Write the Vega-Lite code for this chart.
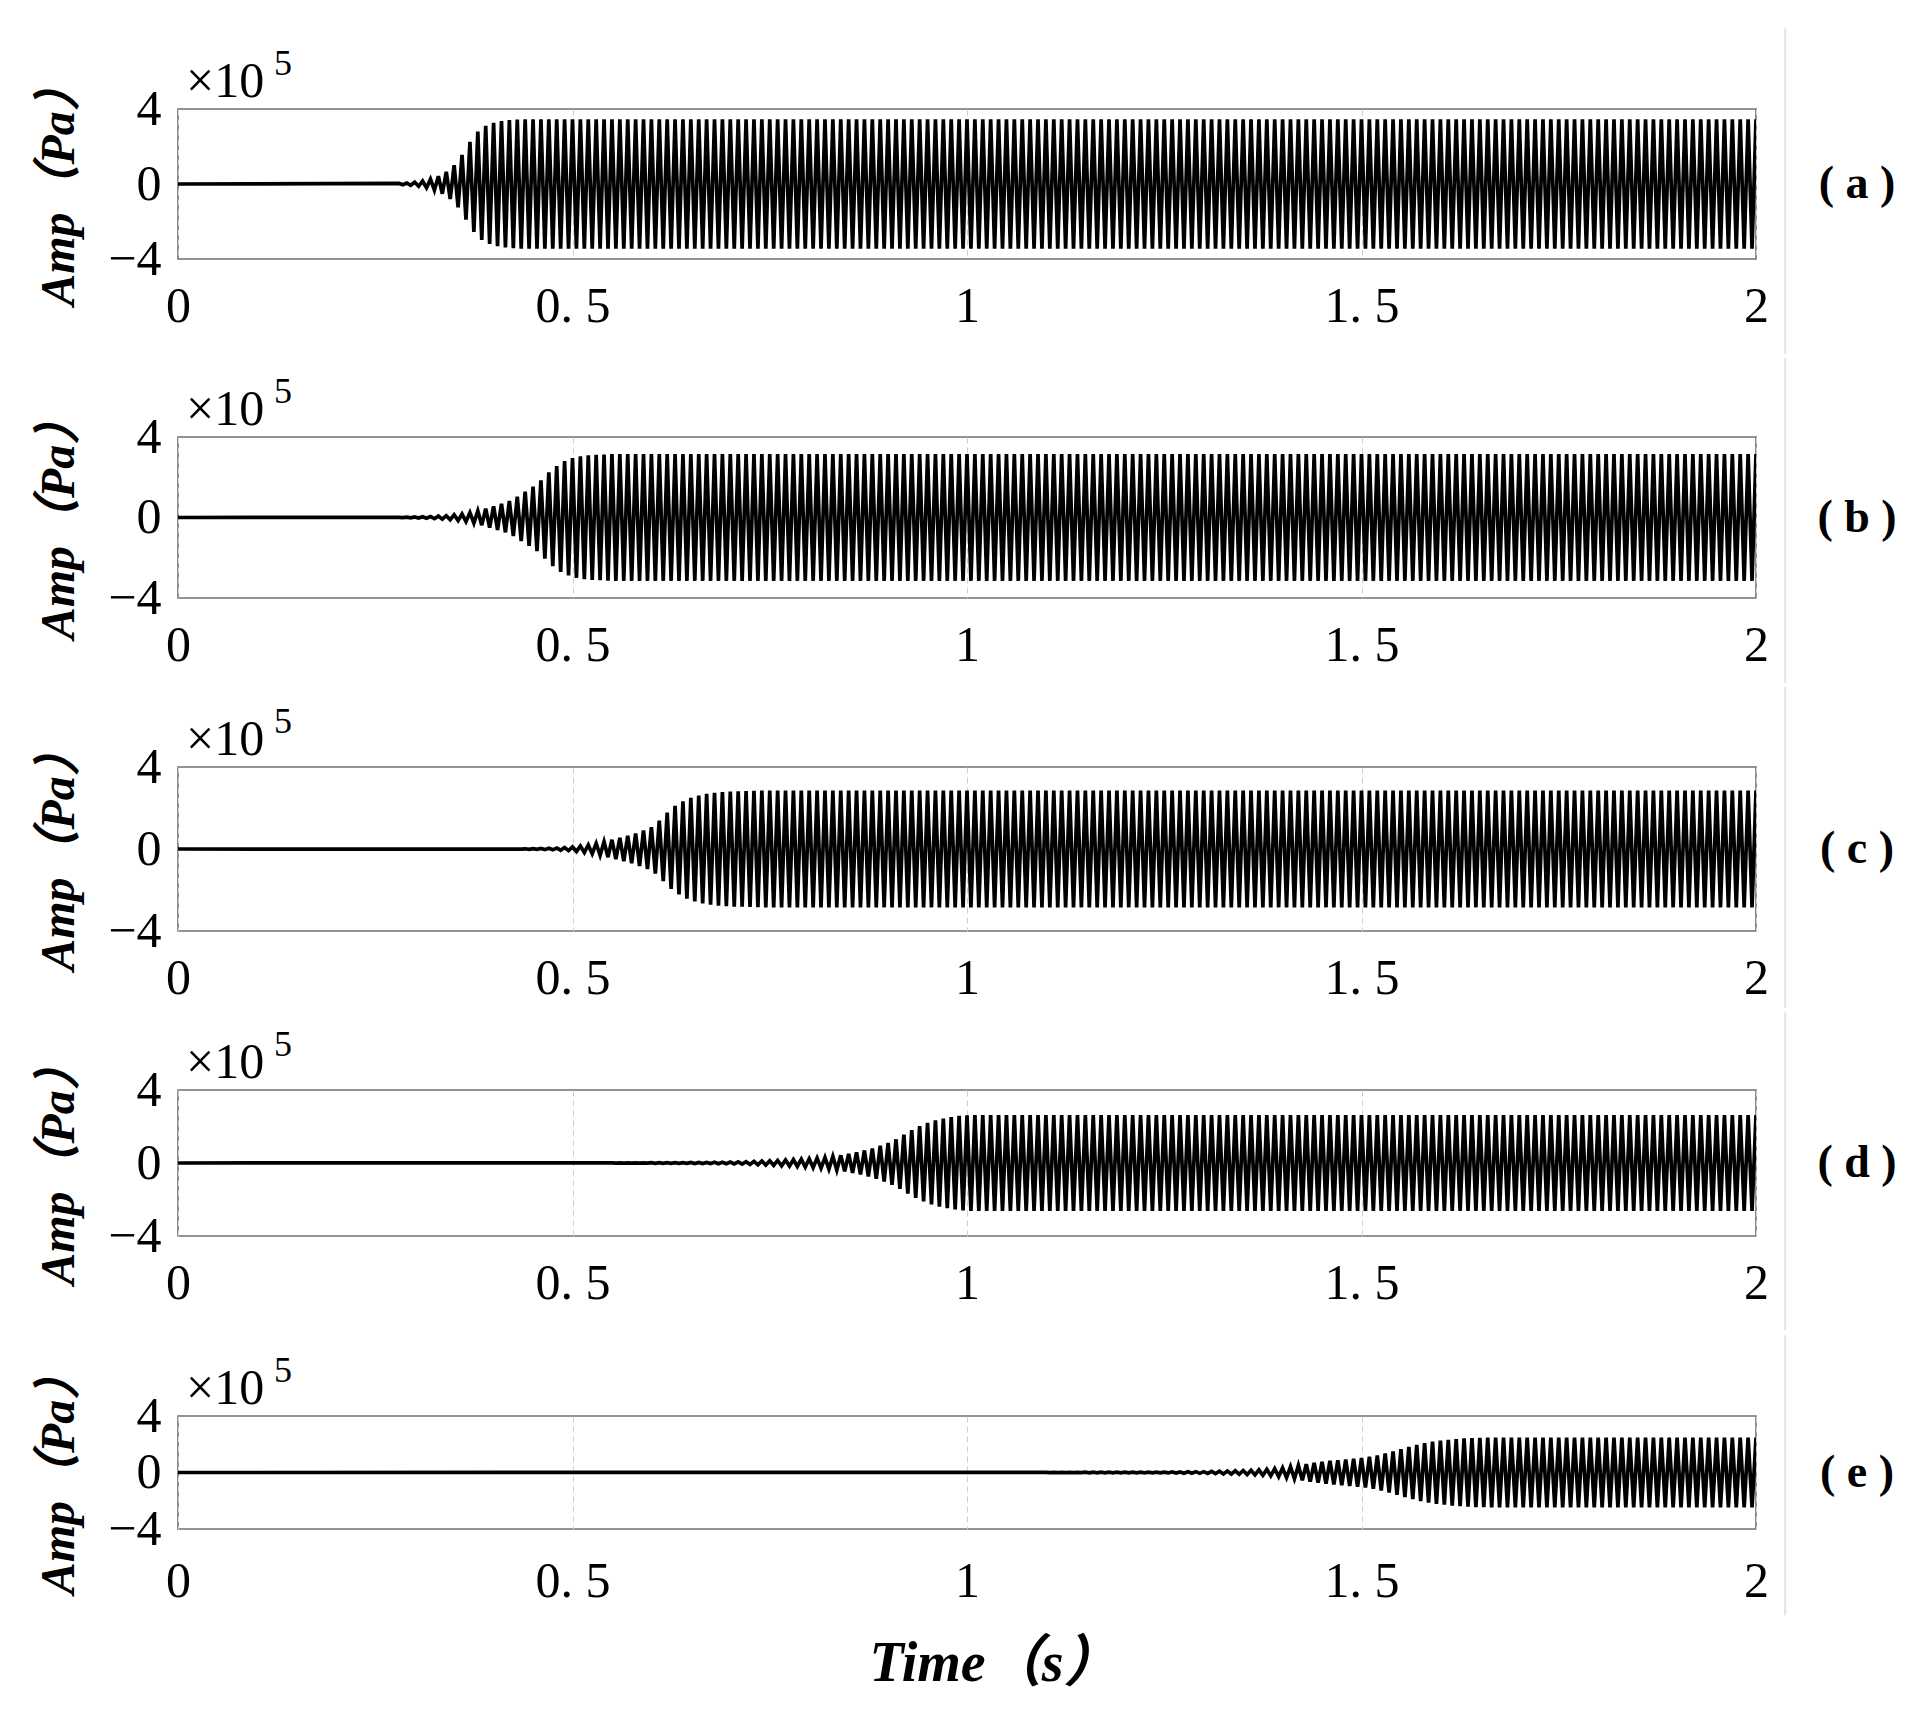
{
"$schema":"https://vega.github.io/schema/vega-lite/v6.json",
"background":"white",
"padding":{"left":35,"top":26,"right":5,"bottom":5},
"data":{"values":[
{"t":0,"a":0,"b":0,"c":0,"d":0,"e":0},
{"t":0.28,"a":0.03,"b":0.01},{"t":0.285,"a":-0.04,"b":-0.01},{"t":0.29,"a":0.05,"b":0.02},{"t":0.295,"a":-0.07,"b":-0.02},
{"t":0.3,"a":0.09,"b":0.03},{"t":0.305,"a":-0.12,"b":-0.03},{"t":0.31,"a":0.16,"b":0.04},{"t":0.315,"a":-0.2,"b":-0.04},
{"t":0.32,"a":0.26,"b":0.05},{"t":0.325,"a":-0.33,"b":-0.06},{"t":0.33,"a":0.42,"b":0.07},{"t":0.335,"a":-0.52,"b":-0.08},
{"t":0.34,"a":0.65,"b":0.09},{"t":0.345,"a":-0.8,"b":-0.11},{"t":0.35,"a":1,"b":0.13},{"t":0.355,"a":-1.25,"b":-0.15},
{"t":0.36,"a":1.55,"b":0.17},{"t":0.365,"a":-1.9,"b":-0.2},{"t":0.37,"a":2.25,"b":0.24},{"t":0.375,"a":-2.55,"b":-0.28},
{"t":0.38,"a":2.8,"b":0.33},{"t":0.385,"a":-2.98,"b":-0.38},{"t":0.39,"a":3.1,"b":0.44},{"t":0.395,"a":-3.2,"b":-0.5},
{"t":0.4,"a":3.27,"b":0.56},{"t":0.405,"a":-3.32,"b":-0.62},{"t":0.41,"a":3.36,"b":0.68},{"t":0.415,"a":-3.39,"b":-0.74},
{"t":0.42,"a":3.41,"b":0.82},{"t":0.425,"a":-3.43,"b":-0.92},{"t":0.43,"a":3.44,"b":1.04},{"t":0.435,"a":-3.45,"b":-1.17,"c":-0.01},
{"t":0.44,"a":3.45,"b":1.29,"c":0.01},{"t":0.445,"a":-3.45,"b":-1.41,"c":-0.02},{"t":0.45,"a":3.45,"b":1.53,"c":0.02},{"t":0.455,"a":-3.45,"b":-1.67,"c":-0.02},
{"t":0.46,"a":3.45,"b":1.85,"c":0.03},{"t":0.465,"a":-3.45,"b":-2.05,"c":-0.03},{"t":0.47,"a":3.45,"b":2.25,"c":0.04},{"t":0.475,"a":-3.45,"b":-2.42,"c":-0.04},
{"t":0.48,"a":3.45,"b":2.56,"c":0.05},{"t":0.485,"a":-3.45,"b":-2.7,"c":-0.06},{"t":0.49,"a":3.45,"b":2.8,"c":0.07},{"t":0.495,"a":-3.45,"b":-2.88,"c":-0.08},
{"t":0.5,"a":3.45,"b":2.95,"c":0.1},{"t":0.505,"a":-3.45,"b":-3,"c":-0.12},{"t":0.51,"a":3.45,"b":3.04,"c":0.14},{"t":0.515,"a":-3.45,"b":-3.07,"c":-0.17},
{"t":0.52,"a":3.45,"b":3.09,"c":0.2},{"t":0.525,"a":-3.45,"b":-3.1,"c":-0.23},{"t":0.53,"a":3.45,"b":3.11,"c":0.27},{"t":0.535,"a":-3.45,"b":-3.12,"c":-0.31},
{"t":0.54,"a":3.45,"b":3.13,"c":0.35},{"t":0.545,"a":-3.45,"b":-3.14,"c":-0.4},
{"t":0.55,"a":3.45,"b":3.15,"c":0.45,"d":0.01},{"t":0.555,"a":-3.45,"b":-3.15,"c":-0.5,"d":-0.01},
{"t":0.56,"a":3.45,"b":3.15,"c":0.55,"d":0.01},{"t":0.565,"a":-3.45,"b":-3.15,"c":-0.6,"d":-0.01},
{"t":0.57,"a":3.45,"b":3.15,"c":0.65,"d":0.01},{"t":0.575,"a":-3.45,"b":-3.15,"c":-0.7,"d":-0.01},
{"t":0.58,"a":3.45,"b":3.15,"c":0.76,"d":0.01},{"t":0.585,"a":-3.45,"b":-3.15,"c":-0.83,"d":-0.01},
{"t":0.59,"a":3.45,"b":3.15,"c":0.9,"d":0.01},{"t":0.595,"a":-3.45,"b":-3.15,"c":-0.98,"d":-0.01},
{"t":0.6,"a":3.45,"b":3.15,"c":1.07,"d":0.02},{"t":0.605,"a":-3.45,"b":-3.15,"c":-1.2,"d":-0.02},
{"t":0.61,"a":3.45,"b":3.15,"c":1.38,"d":0.02},{"t":0.615,"a":-3.45,"b":-3.15,"c":-1.57,"d":-0.02},
{"t":0.62,"a":3.45,"b":3.15,"c":1.78,"d":0.02},{"t":0.625,"a":-3.45,"b":-3.15,"c":-1.95,"d":-0.02},
{"t":0.63,"a":3.45,"b":3.15,"c":2.1,"d":0.02},{"t":0.635,"a":-3.45,"b":-3.15,"c":-2.22,"d":-0.02},
{"t":0.64,"a":3.45,"b":3.15,"c":2.33,"d":0.02},{"t":0.645,"a":-3.45,"b":-3.15,"c":-2.42,"d":-0.02},
{"t":0.65,"a":3.45,"b":3.15,"c":2.5,"d":0.03},{"t":0.655,"a":-3.45,"b":-3.15,"c":-2.56,"d":-0.03},
{"t":0.66,"a":3.45,"b":3.15,"c":2.61,"d":0.03},{"t":0.665,"a":-3.45,"b":-3.15,"c":-2.65,"d":-0.03},
{"t":0.67,"a":3.45,"b":3.15,"c":2.69,"d":0.03},{"t":0.675,"a":-3.45,"b":-3.15,"c":-2.72,"d":-0.03},
{"t":0.68,"a":3.45,"b":3.15,"c":2.74,"d":0.04},{"t":0.685,"a":-3.45,"b":-3.15,"c":-2.76,"d":-0.04},
{"t":0.69,"a":3.45,"b":3.15,"c":2.78,"d":0.04},{"t":0.695,"a":-3.45,"b":-3.15,"c":-2.79,"d":-0.04},
{"t":0.7,"a":3.45,"b":3.15,"c":2.8,"d":0.05},{"t":0.705,"a":-3.45,"b":-3.15,"c":-2.81,"d":-0.05},
{"t":0.71,"a":3.45,"b":3.15,"c":2.82,"d":0.06},{"t":0.715,"a":-3.45,"b":-3.15,"c":-2.82,"d":-0.06},
{"t":0.72,"a":3.45,"b":3.15,"c":2.83,"d":0.07},{"t":0.725,"a":-3.45,"b":-3.15,"c":-2.83,"d":-0.08},
{"t":0.73,"a":3.45,"b":3.15,"c":2.84,"d":0.09},{"t":0.735,"a":-3.45,"b":-3.15,"c":-2.84,"d":-0.1},
{"t":0.74,"a":3.45,"b":3.15,"c":2.85,"d":0.11},{"t":0.745,"a":-3.45,"b":-3.15,"c":-2.85,"d":-0.11},
{"t":0.75,"a":3.45,"b":3.15,"c":2.85,"d":0.12},{"t":0.755,"a":-3.45,"b":-3.15,"c":-2.85,"d":-0.13},
{"t":0.76,"a":3.45,"b":3.15,"c":2.85,"d":0.14},{"t":0.765,"a":-3.45,"b":-3.15,"c":-2.85,"d":-0.15},
{"t":0.77,"a":3.45,"b":3.15,"c":2.85,"d":0.16},{"t":0.775,"a":-3.45,"b":-3.15,"c":-2.85,"d":-0.17},
{"t":0.78,"a":3.45,"b":3.15,"c":2.85,"d":0.18},{"t":0.785,"a":-3.45,"b":-3.15,"c":-2.85,"d":-0.19},
{"t":0.79,"a":3.45,"b":3.15,"c":2.85,"d":0.21},{"t":0.795,"a":-3.45,"b":-3.15,"c":-2.85,"d":-0.22},
{"t":0.8,"a":3.45,"b":3.15,"c":2.85,"d":0.23},{"t":0.805,"a":-3.45,"b":-3.15,"c":-2.85,"d":-0.25},
{"t":0.81,"a":3.45,"b":3.15,"c":2.85,"d":0.27},{"t":0.815,"a":-3.45,"b":-3.15,"c":-2.85,"d":-0.28},
{"t":0.82,"a":3.45,"b":3.15,"c":2.85,"d":0.3},{"t":0.825,"a":-3.45,"b":-3.15,"c":-2.85,"d":-0.33},
{"t":0.83,"a":3.45,"b":3.15,"c":2.85,"d":0.36},{"t":0.835,"a":-3.45,"b":-3.15,"c":-2.85,"d":-0.39},
{"t":0.84,"a":3.45,"b":3.15,"c":2.85,"d":0.42},{"t":0.845,"a":-3.45,"b":-3.15,"c":-2.85,"d":-0.46},
{"t":0.85,"a":3.45,"b":3.15,"c":2.85,"d":0.5},{"t":0.855,"a":-3.45,"b":-3.15,"c":-2.85,"d":-0.54},
{"t":0.86,"a":3.45,"b":3.15,"c":2.85,"d":0.58},{"t":0.865,"a":-3.45,"b":-3.15,"c":-2.85,"d":-0.63},
{"t":0.87,"a":3.45,"b":3.15,"c":2.85,"d":0.69},{"t":0.875,"a":-3.45,"b":-3.15,"c":-2.85,"d":-0.74},
{"t":0.88,"a":3.45,"b":3.15,"c":2.85,"d":0.8},{"t":0.885,"a":-3.45,"b":-3.15,"c":-2.85,"d":-0.87},
{"t":0.89,"a":3.45,"b":3.15,"c":2.85,"d":0.95},{"t":0.895,"a":-3.45,"b":-3.15,"c":-2.85,"d":-1.02},
{"t":0.9,"a":3.45,"b":3.15,"c":2.85,"d":1.1},{"t":0.905,"a":-3.45,"b":-3.15,"c":-2.85,"d":-1.2},
{"t":0.91,"a":3.45,"b":3.15,"c":2.85,"d":1.3},{"t":0.915,"a":-3.45,"b":-3.15,"c":-2.85,"d":-1.42},
{"t":0.92,"a":3.45,"b":3.15,"c":2.85,"d":1.55},{"t":0.925,"a":-3.45,"b":-3.15,"c":-2.85,"d":-1.68},
{"t":0.93,"a":3.45,"b":3.15,"c":2.85,"d":1.8},{"t":0.935,"a":-3.45,"b":-3.15,"c":-2.85,"d":-1.91},
{"t":0.94,"a":3.45,"b":3.15,"c":2.85,"d":2.02},{"t":0.945,"a":-3.45,"b":-3.15,"c":-2.85,"d":-2.11},
{"t":0.95,"a":3.45,"b":3.15,"c":2.85,"d":2.2},{"t":0.955,"a":-3.45,"b":-3.15,"c":-2.85,"d":-2.27},
{"t":0.96,"a":3.45,"b":3.15,"c":2.85,"d":2.34},{"t":0.965,"a":-3.45,"b":-3.15,"c":-2.85,"d":-2.39},
{"t":0.97,"a":3.45,"b":3.15,"c":2.85,"d":2.44},{"t":0.975,"a":-3.45,"b":-3.15,"c":-2.85,"d":-2.48},
{"t":0.98,"a":3.45,"b":3.15,"c":2.85,"d":2.52},{"t":0.985,"a":-3.45,"b":-3.15,"c":-2.85,"d":-2.55},
{"t":0.99,"a":3.45,"b":3.15,"c":2.85,"d":2.58},{"t":0.995,"a":-3.45,"b":-3.15,"c":-2.85,"d":-2.6},
{"t":1,"a":3.45,"b":3.15,"c":2.85,"d":2.61},{"t":1.005,"a":-3.45,"b":-3.15,"c":-2.85,"d":-2.62},
{"t":1.01,"a":3.45,"b":3.15,"c":2.85,"d":2.62},{"t":1.015,"a":-3.45,"b":-3.15,"c":-2.85,"d":-2.63},
{"t":1.02,"a":3.45,"b":3.15,"c":2.85,"d":2.63},{"t":1.025,"a":-3.45,"b":-3.15,"c":-2.85,"d":-2.63},
{"t":1.03,"a":3.45,"b":3.15,"c":2.85,"d":2.63},{"t":1.035,"a":-3.45,"b":-3.15,"c":-2.85,"d":-2.63},
{"t":1.04,"a":3.45,"b":3.15,"c":2.85,"d":2.63},{"t":1.045,"a":-3.45,"b":-3.15,"c":-2.85,"d":-2.63},
{"t":1.05,"a":3.45,"b":3.15,"c":2.85,"d":2.63},{"t":1.055,"a":-3.45,"b":-3.15,"c":-2.85,"d":-2.63},
{"t":1.06,"a":3.45,"b":3.15,"c":2.85,"d":2.63},{"t":1.065,"a":-3.45,"b":-3.15,"c":-2.85,"d":-2.63},
{"t":1.07,"a":3.45,"b":3.15,"c":2.85,"d":2.63},{"t":1.075,"a":-3.45,"b":-3.15,"c":-2.85,"d":-2.63},
{"t":1.08,"a":3.45,"b":3.15,"c":2.85,"d":2.63},{"t":1.085,"a":-3.45,"b":-3.15,"c":-2.85,"d":-2.63},
{"t":1.09,"a":3.45,"b":3.15,"c":2.85,"d":2.63},{"t":1.095,"a":-3.45,"b":-3.15,"c":-2.85,"d":-2.63},
{"t":1.1,"a":3.45,"b":3.15,"c":2.85,"d":2.63,"e":0.01},{"t":1.105,"a":-3.45,"b":-3.15,"c":-2.85,"d":-2.63,"e":-0.01},
{"t":1.11,"a":3.45,"b":3.15,"c":2.85,"d":2.63,"e":0.01},{"t":1.115,"a":-3.45,"b":-3.15,"c":-2.85,"d":-2.63,"e":-0.01},
{"t":1.12,"a":3.45,"b":3.15,"c":2.85,"d":2.63,"e":0.01},{"t":1.125,"a":-3.45,"b":-3.15,"c":-2.85,"d":-2.63,"e":-0.01},
{"t":1.13,"a":3.45,"b":3.15,"c":2.85,"d":2.63,"e":0.01},{"t":1.135,"a":-3.45,"b":-3.15,"c":-2.85,"d":-2.63,"e":-0.01},
{"t":1.14,"a":3.45,"b":3.15,"c":2.85,"d":2.63,"e":0.01},{"t":1.145,"a":-3.45,"b":-3.15,"c":-2.85,"d":-2.63,"e":-0.01},
{"t":1.15,"a":3.45,"b":3.15,"c":2.85,"d":2.63,"e":0.02},{"t":1.155,"a":-3.45,"b":-3.15,"c":-2.85,"d":-2.63,"e":-0.02},
{"t":1.16,"a":3.45,"b":3.15,"c":2.85,"d":2.63,"e":0.02},{"t":1.165,"a":-3.45,"b":-3.15,"c":-2.85,"d":-2.63,"e":-0.02},
{"t":1.17,"a":3.45,"b":3.15,"c":2.85,"d":2.63,"e":0.02},{"t":1.175,"a":-3.45,"b":-3.15,"c":-2.85,"d":-2.63,"e":-0.02},
{"t":1.18,"a":3.45,"b":3.15,"c":2.85,"d":2.63,"e":0.02},{"t":1.185,"a":-3.45,"b":-3.15,"c":-2.85,"d":-2.63,"e":-0.02},
{"t":1.19,"a":3.45,"b":3.15,"c":2.85,"d":2.63,"e":0.02},{"t":1.195,"a":-3.45,"b":-3.15,"c":-2.85,"d":-2.63,"e":-0.02},
{"t":1.2,"a":3.45,"b":3.15,"c":2.85,"d":2.63,"e":0.02},{"t":1.205,"a":-3.45,"b":-3.15,"c":-2.85,"d":-2.63,"e":-0.02},
{"t":1.21,"a":3.45,"b":3.15,"c":2.85,"d":2.63,"e":0.02},{"t":1.215,"a":-3.45,"b":-3.15,"c":-2.85,"d":-2.63,"e":-0.02},
{"t":1.22,"a":3.45,"b":3.15,"c":2.85,"d":2.63,"e":0.02},{"t":1.225,"a":-3.45,"b":-3.15,"c":-2.85,"d":-2.63,"e":-0.02},
{"t":1.23,"a":3.45,"b":3.15,"c":2.85,"d":2.63,"e":0.02},{"t":1.235,"a":-3.45,"b":-3.15,"c":-2.85,"d":-2.63,"e":-0.02},
{"t":1.24,"a":3.45,"b":3.15,"c":2.85,"d":2.63,"e":0.02},{"t":1.245,"a":-3.45,"b":-3.15,"c":-2.85,"d":-2.63,"e":-0.03},
{"t":1.25,"a":3.45,"b":3.15,"c":2.85,"d":2.63,"e":0.03},{"t":1.255,"a":-3.45,"b":-3.15,"c":-2.85,"d":-2.63,"e":-0.03},
{"t":1.26,"a":3.45,"b":3.15,"c":2.85,"d":2.63,"e":0.04},{"t":1.265,"a":-3.45,"b":-3.15,"c":-2.85,"d":-2.63,"e":-0.04},
{"t":1.27,"a":3.45,"b":3.15,"c":2.85,"d":2.63,"e":0.04},{"t":1.275,"a":-3.45,"b":-3.15,"c":-2.85,"d":-2.63,"e":-0.05},
{"t":1.28,"a":3.45,"b":3.15,"c":2.85,"d":2.63,"e":0.05},{"t":1.285,"a":-3.45,"b":-3.15,"c":-2.85,"d":-2.63,"e":-0.05},
{"t":1.29,"a":3.45,"b":3.15,"c":2.85,"d":2.63,"e":0.06},{"t":1.295,"a":-3.45,"b":-3.15,"c":-2.85,"d":-2.63,"e":-0.06},
{"t":1.3,"a":3.45,"b":3.15,"c":2.85,"d":2.63,"e":0.06},{"t":1.305,"a":-3.45,"b":-3.15,"c":-2.85,"d":-2.63,"e":-0.07},
{"t":1.31,"a":3.45,"b":3.15,"c":2.85,"d":2.63,"e":0.08},{"t":1.315,"a":-3.45,"b":-3.15,"c":-2.85,"d":-2.63,"e":-0.08},
{"t":1.32,"a":3.45,"b":3.15,"c":2.85,"d":2.63,"e":0.09},{"t":1.325,"a":-3.45,"b":-3.15,"c":-2.85,"d":-2.63,"e":-0.1},
{"t":1.33,"a":3.45,"b":3.15,"c":2.85,"d":2.63,"e":0.1},{"t":1.335,"a":-3.45,"b":-3.15,"c":-2.85,"d":-2.63,"e":-0.11},
{"t":1.34,"a":3.45,"b":3.15,"c":2.85,"d":2.63,"e":0.12},{"t":1.345,"a":-3.45,"b":-3.15,"c":-2.85,"d":-2.63,"e":-0.13},
{"t":1.35,"a":3.45,"b":3.15,"c":2.85,"d":2.63,"e":0.14},{"t":1.355,"a":-3.45,"b":-3.15,"c":-2.85,"d":-2.63,"e":-0.15},
{"t":1.36,"a":3.45,"b":3.15,"c":2.85,"d":2.63,"e":0.16},{"t":1.365,"a":-3.45,"b":-3.15,"c":-2.85,"d":-2.63,"e":-0.17},
{"t":1.37,"a":3.45,"b":3.15,"c":2.85,"d":2.63,"e":0.19},{"t":1.375,"a":-3.45,"b":-3.15,"c":-2.85,"d":-2.63,"e":-0.2},
{"t":1.38,"a":3.45,"b":3.15,"c":2.85,"d":2.63,"e":0.22},{"t":1.385,"a":-3.45,"b":-3.15,"c":-2.85,"d":-2.63,"e":-0.24},
{"t":1.39,"a":3.45,"b":3.15,"c":2.85,"d":2.63,"e":0.27},{"t":1.395,"a":-3.45,"b":-3.15,"c":-2.85,"d":-2.63,"e":-0.29},
{"t":1.4,"a":3.45,"b":3.15,"c":2.85,"d":2.63,"e":0.32},{"t":1.405,"a":-3.45,"b":-3.15,"c":-2.85,"d":-2.63,"e":-0.36},
{"t":1.41,"a":3.45,"b":3.15,"c":2.85,"d":2.63,"e":0.41},{"t":1.415,"a":-3.45,"b":-3.15,"c":-2.85,"d":-2.63,"e":-0.45},
{"t":1.42,"a":3.45,"b":3.15,"c":2.85,"d":2.63,"e":0.5},{"t":1.425,"a":-3.45,"b":-3.15,"c":-2.85,"d":-2.63,"e":-0.55},
{"t":1.43,"a":3.45,"b":3.15,"c":2.85,"d":2.63,"e":0.59},{"t":1.435,"a":-3.45,"b":-3.15,"c":-2.85,"d":-2.63,"e":-0.64},
{"t":1.44,"a":3.45,"b":3.15,"c":2.85,"d":2.63,"e":0.68},{"t":1.445,"a":-3.45,"b":-3.15,"c":-2.85,"d":-2.63,"e":-0.72},
{"t":1.45,"a":3.45,"b":3.15,"c":2.85,"d":2.63,"e":0.75},{"t":1.455,"a":-3.45,"b":-3.15,"c":-2.85,"d":-2.63,"e":-0.79},
{"t":1.46,"a":3.45,"b":3.15,"c":2.85,"d":2.63,"e":0.82},{"t":1.465,"a":-3.45,"b":-3.15,"c":-2.85,"d":-2.63,"e":-0.85},
{"t":1.47,"a":3.45,"b":3.15,"c":2.85,"d":2.63,"e":0.87},{"t":1.475,"a":-3.45,"b":-3.15,"c":-2.85,"d":-2.63,"e":-0.9},
{"t":1.48,"a":3.45,"b":3.15,"c":2.85,"d":2.63,"e":0.92},{"t":1.485,"a":-3.45,"b":-3.15,"c":-2.85,"d":-2.63,"e":-0.95},
{"t":1.49,"a":3.45,"b":3.15,"c":2.85,"d":2.63,"e":0.97},{"t":1.495,"a":-3.45,"b":-3.15,"c":-2.85,"d":-2.63,"e":-1},
{"t":1.5,"a":3.45,"b":3.15,"c":2.85,"d":2.63,"e":1.02},{"t":1.505,"a":-3.45,"b":-3.15,"c":-2.85,"d":-2.63,"e":-1.06},
{"t":1.51,"a":3.45,"b":3.15,"c":2.85,"d":2.63,"e":1.11},{"t":1.515,"a":-3.45,"b":-3.15,"c":-2.85,"d":-2.63,"e":-1.15},
{"t":1.52,"a":3.45,"b":3.15,"c":2.85,"d":2.63,"e":1.2},{"t":1.525,"a":-3.45,"b":-3.15,"c":-2.85,"d":-2.63,"e":-1.27},
{"t":1.53,"a":3.45,"b":3.15,"c":2.85,"d":2.63,"e":1.35},{"t":1.535,"a":-3.45,"b":-3.15,"c":-2.85,"d":-2.63,"e":-1.42},
{"t":1.54,"a":3.45,"b":3.15,"c":2.85,"d":2.63,"e":1.5},{"t":1.545,"a":-3.45,"b":-3.15,"c":-2.85,"d":-2.63,"e":-1.58},
{"t":1.55,"a":3.45,"b":3.15,"c":2.85,"d":2.63,"e":1.66},{"t":1.555,"a":-3.45,"b":-3.15,"c":-2.85,"d":-2.63,"e":-1.74},
{"t":1.56,"a":3.45,"b":3.15,"c":2.85,"d":2.63,"e":1.82},{"t":1.565,"a":-3.45,"b":-3.15,"c":-2.85,"d":-2.63,"e":-1.89},
{"t":1.57,"a":3.45,"b":3.15,"c":2.85,"d":2.63,"e":1.95},{"t":1.575,"a":-3.45,"b":-3.15,"c":-2.85,"d":-2.63,"e":-2.02},
{"t":1.58,"a":3.45,"b":3.15,"c":2.85,"d":2.63,"e":2.08},{"t":1.585,"a":-3.45,"b":-3.15,"c":-2.85,"d":-2.63,"e":-2.13},
{"t":1.59,"a":3.45,"b":3.15,"c":2.85,"d":2.63,"e":2.18},{"t":1.595,"a":-3.45,"b":-3.15,"c":-2.85,"d":-2.63,"e":-2.22},
{"t":1.6,"a":3.45,"b":3.15,"c":2.85,"d":2.63,"e":2.25},{"t":1.605,"a":-3.45,"b":-3.15,"c":-2.85,"d":-2.63,"e":-2.28},
{"t":1.61,"a":3.45,"b":3.15,"c":2.85,"d":2.63,"e":2.31},{"t":1.615,"a":-3.45,"b":-3.15,"c":-2.85,"d":-2.63,"e":-2.34},
{"t":1.62,"a":3.45,"b":3.15,"c":2.85,"d":2.63,"e":2.37},{"t":1.625,"a":-3.45,"b":-3.15,"c":-2.85,"d":-2.63,"e":-2.39},
{"t":1.63,"a":3.45,"b":3.15,"c":2.85,"d":2.63,"e":2.41},{"t":1.635,"a":-3.45,"b":-3.15,"c":-2.85,"d":-2.63,"e":-2.42},
{"t":1.64,"a":3.45,"b":3.15,"c":2.85,"d":2.63,"e":2.44},{"t":1.645,"a":-3.45,"b":-3.15,"c":-2.85,"d":-2.63,"e":-2.45},
{"t":1.65,"a":3.45,"b":3.15,"c":2.85,"d":2.63,"e":2.46},{"t":1.655,"a":-3.45,"b":-3.15,"c":-2.85,"d":-2.63,"e":-2.46},
{"t":1.66,"a":3.45,"b":3.15,"c":2.85,"d":2.63,"e":2.47},{"t":1.665,"a":-3.45,"b":-3.15,"c":-2.85,"d":-2.63,"e":-2.47},
{"t":1.67,"a":3.45,"b":3.15,"c":2.85,"d":2.63,"e":2.47},{"t":1.675,"a":-3.45,"b":-3.15,"c":-2.85,"d":-2.63,"e":-2.47},
{"t":1.68,"a":3.45,"b":3.15,"c":2.85,"d":2.63,"e":2.47},{"t":1.685,"a":-3.45,"b":-3.15,"c":-2.85,"d":-2.63,"e":-2.47},
{"t":1.69,"a":3.45,"b":3.15,"c":2.85,"d":2.63,"e":2.47},{"t":1.695,"a":-3.45,"b":-3.15,"c":-2.85,"d":-2.63,"e":-2.47},
{"t":1.7,"a":3.45,"b":3.15,"c":2.85,"d":2.63,"e":2.47},{"t":1.705,"a":-3.45,"b":-3.15,"c":-2.85,"d":-2.63,"e":-2.47},
{"t":1.71,"a":3.45,"b":3.15,"c":2.85,"d":2.63,"e":2.47},{"t":1.715,"a":-3.45,"b":-3.15,"c":-2.85,"d":-2.63,"e":-2.47},
{"t":1.72,"a":3.45,"b":3.15,"c":2.85,"d":2.63,"e":2.47},{"t":1.725,"a":-3.45,"b":-3.15,"c":-2.85,"d":-2.63,"e":-2.47},
{"t":1.73,"a":3.45,"b":3.15,"c":2.85,"d":2.63,"e":2.47},{"t":1.735,"a":-3.45,"b":-3.15,"c":-2.85,"d":-2.63,"e":-2.47},
{"t":1.74,"a":3.45,"b":3.15,"c":2.85,"d":2.63,"e":2.47},{"t":1.745,"a":-3.45,"b":-3.15,"c":-2.85,"d":-2.63,"e":-2.47},
{"t":1.75,"a":3.45,"b":3.15,"c":2.85,"d":2.63,"e":2.47},{"t":1.755,"a":-3.45,"b":-3.15,"c":-2.85,"d":-2.63,"e":-2.47},
{"t":1.76,"a":3.45,"b":3.15,"c":2.85,"d":2.63,"e":2.47},{"t":1.765,"a":-3.45,"b":-3.15,"c":-2.85,"d":-2.63,"e":-2.47},
{"t":1.77,"a":3.45,"b":3.15,"c":2.85,"d":2.63,"e":2.47},{"t":1.775,"a":-3.45,"b":-3.15,"c":-2.85,"d":-2.63,"e":-2.47},
{"t":1.78,"a":3.45,"b":3.15,"c":2.85,"d":2.63,"e":2.47},{"t":1.785,"a":-3.45,"b":-3.15,"c":-2.85,"d":-2.63,"e":-2.47},
{"t":1.79,"a":3.45,"b":3.15,"c":2.85,"d":2.63,"e":2.47},{"t":1.795,"a":-3.45,"b":-3.15,"c":-2.85,"d":-2.63,"e":-2.47},
{"t":1.8,"a":3.45,"b":3.15,"c":2.85,"d":2.63,"e":2.47},{"t":1.805,"a":-3.45,"b":-3.15,"c":-2.85,"d":-2.63,"e":-2.47},
{"t":1.81,"a":3.45,"b":3.15,"c":2.85,"d":2.63,"e":2.47},{"t":1.815,"a":-3.45,"b":-3.15,"c":-2.85,"d":-2.63,"e":-2.47},
{"t":1.82,"a":3.45,"b":3.15,"c":2.85,"d":2.63,"e":2.47},{"t":1.825,"a":-3.45,"b":-3.15,"c":-2.85,"d":-2.63,"e":-2.47},
{"t":1.83,"a":3.45,"b":3.15,"c":2.85,"d":2.63,"e":2.47},{"t":1.835,"a":-3.45,"b":-3.15,"c":-2.85,"d":-2.63,"e":-2.47},
{"t":1.84,"a":3.45,"b":3.15,"c":2.85,"d":2.63,"e":2.47},{"t":1.845,"a":-3.45,"b":-3.15,"c":-2.85,"d":-2.63,"e":-2.47},
{"t":1.85,"a":3.45,"b":3.15,"c":2.85,"d":2.63,"e":2.47},{"t":1.855,"a":-3.45,"b":-3.15,"c":-2.85,"d":-2.63,"e":-2.47},
{"t":1.86,"a":3.45,"b":3.15,"c":2.85,"d":2.63,"e":2.47},{"t":1.865,"a":-3.45,"b":-3.15,"c":-2.85,"d":-2.63,"e":-2.47},
{"t":1.87,"a":3.45,"b":3.15,"c":2.85,"d":2.63,"e":2.47},{"t":1.875,"a":-3.45,"b":-3.15,"c":-2.85,"d":-2.63,"e":-2.47},
{"t":1.88,"a":3.45,"b":3.15,"c":2.85,"d":2.63,"e":2.47},{"t":1.885,"a":-3.45,"b":-3.15,"c":-2.85,"d":-2.63,"e":-2.47},
{"t":1.89,"a":3.45,"b":3.15,"c":2.85,"d":2.63,"e":2.47},{"t":1.895,"a":-3.45,"b":-3.15,"c":-2.85,"d":-2.63,"e":-2.47},
{"t":1.9,"a":3.45,"b":3.15,"c":2.85,"d":2.63,"e":2.47},{"t":1.905,"a":-3.45,"b":-3.15,"c":-2.85,"d":-2.63,"e":-2.47},
{"t":1.91,"a":3.45,"b":3.15,"c":2.85,"d":2.63,"e":2.47},{"t":1.915,"a":-3.45,"b":-3.15,"c":-2.85,"d":-2.63,"e":-2.47},
{"t":1.92,"a":3.45,"b":3.15,"c":2.85,"d":2.63,"e":2.47},{"t":1.925,"a":-3.45,"b":-3.15,"c":-2.85,"d":-2.63,"e":-2.47},
{"t":1.93,"a":3.45,"b":3.15,"c":2.85,"d":2.63,"e":2.47},{"t":1.935,"a":-3.45,"b":-3.15,"c":-2.85,"d":-2.63,"e":-2.47},
{"t":1.94,"a":3.45,"b":3.15,"c":2.85,"d":2.63,"e":2.47},{"t":1.945,"a":-3.45,"b":-3.15,"c":-2.85,"d":-2.63,"e":-2.47},
{"t":1.95,"a":3.45,"b":3.15,"c":2.85,"d":2.63,"e":2.47},{"t":1.955,"a":-3.45,"b":-3.15,"c":-2.85,"d":-2.63,"e":-2.47},
{"t":1.96,"a":3.45,"b":3.15,"c":2.85,"d":2.63,"e":2.47},{"t":1.965,"a":-3.45,"b":-3.15,"c":-2.85,"d":-2.63,"e":-2.47},
{"t":1.97,"a":3.45,"b":3.15,"c":2.85,"d":2.63,"e":2.47},{"t":1.975,"a":-3.45,"b":-3.15,"c":-2.85,"d":-2.63,"e":-2.47},
{"t":1.98,"a":3.45,"b":3.15,"c":2.85,"d":2.63,"e":2.47},{"t":1.985,"a":-3.45,"b":-3.15,"c":-2.85,"d":-2.63,"e":-2.47},
{"t":1.99,"a":3.45,"b":3.15,"c":2.85,"d":2.63,"e":2.47},{"t":1.995,"a":-3.45,"b":-3.15,"c":-2.85,"d":-2.63,"e":-2.47},
{"t":2,"a":3.45,"b":3.15,"c":2.85,"d":2.63,"e":2.47}
]},
"transform":[{"fold":["a","b","c","d","e"],"as":["p","v"]}],
"spacing":0,
"vconcat":[
{"width":1578,"height":150,
 "encoding":{"x":{"field":"t","type":"quantitative","scale":{"domain":[0,2],"nice":false,"zero":false},"axis":{"values":[0,0.5,1,1.5,2],"labelExpr":"replace(toString(datum.value), '.', '. ')","title":null,"labelPadding":22}},
   "y":{"field":"v","type":"quantitative","scale":{"domain":[-4,4],"nice":false},"axis":{"values":[-4,0,4],"title":"Amp（Pa）"}}},
 "layer":[
 {"transform":[{"filter":"datum.p == 'a' && isValid(datum.v)"}],"mark":{"type":"line","stroke":"#000","strokeWidth":3.7,"clip":true}},
 {"data":{"values":[{"t":2.037,"v":8.29,"v2":-9.04}]},"mark":{"type":"rule","stroke":"#e2e2e2","strokeWidth":2},"encoding":{"y2":{"field":"v2"}}},
 {"data":{"values":[{"t":2.128,"v":0,"lab":"( a )"}]},"mark":{"type":"text","font":"Liberation Serif","fontSize":46,"fontWeight":"bold","align":"center","baseline":"middle","color":"#000"},"encoding":{"text":{"field":"lab"}}},
 {"data":{"values":[{"t":0,"v":4,"lab":"×10"}]},"mark":{"type":"text","font":"Liberation Serif","fontSize":50,"align":"left","baseline":"alphabetic","dx":8,"dy":-12,"color":"#000"},"encoding":{"text":{"field":"lab"}}},
 {"data":{"values":[{"t":0,"v":4,"lab":"5"}]},"mark":{"type":"text","font":"Liberation Serif","fontSize":36,"align":"left","baseline":"alphabetic","dx":96,"dy":-34,"color":"#000"},"encoding":{"text":{"field":"lab"}}}
]},
{"width":1578,"height":161,
 "encoding":{"x":{"field":"t","type":"quantitative","scale":{"domain":[0,2],"nice":false,"zero":false},"axis":{"values":[0,0.5,1,1.5,2],"labelExpr":"replace(toString(datum.value), '.', '. ')","title":null,"labelPadding":22}},
   "y":{"field":"v","type":"quantitative","scale":{"domain":[-4,4],"nice":false},"axis":{"values":[-4,0,4],"title":"Amp（Pa）"}}},
 "layer":[
 {"transform":[{"filter":"datum.p == 'b' && isValid(datum.v)"}],"mark":{"type":"line","stroke":"#000","strokeWidth":3.7,"clip":true}},
 {"data":{"values":[{"t":2.037,"v":7.93,"v2":-8.22}]},"mark":{"type":"rule","stroke":"#e2e2e2","strokeWidth":2},"encoding":{"y2":{"field":"v2"}}},
 {"data":{"values":[{"t":2.128,"v":0,"lab":"( b )"}]},"mark":{"type":"text","font":"Liberation Serif","fontSize":46,"fontWeight":"bold","align":"center","baseline":"middle","color":"#000"},"encoding":{"text":{"field":"lab"}}},
 {"data":{"values":[{"t":0,"v":4,"lab":"×10"}]},"mark":{"type":"text","font":"Liberation Serif","fontSize":50,"align":"left","baseline":"alphabetic","dx":8,"dy":-12,"color":"#000"},"encoding":{"text":{"field":"lab"}}},
 {"data":{"values":[{"t":0,"v":4,"lab":"5"}]},"mark":{"type":"text","font":"Liberation Serif","fontSize":36,"align":"left","baseline":"alphabetic","dx":96,"dy":-34,"color":"#000"},"encoding":{"text":{"field":"lab"}}}
]},
{"width":1578,"height":164,
 "encoding":{"x":{"field":"t","type":"quantitative","scale":{"domain":[0,2],"nice":false,"zero":false},"axis":{"values":[0,0.5,1,1.5,2],"labelExpr":"replace(toString(datum.value), '.', '. ')","title":null,"labelPadding":22}},
   "y":{"field":"v","type":"quantitative","scale":{"domain":[-4,4],"nice":false},"axis":{"values":[-4,0,4],"title":"Amp（Pa）"}}},
 "layer":[
 {"transform":[{"filter":"datum.p == 'c' && isValid(datum.v)"}],"mark":{"type":"line","stroke":"#000","strokeWidth":3.7,"clip":true}},
 {"data":{"values":[{"t":2.037,"v":7.9,"v2":-7.76}]},"mark":{"type":"rule","stroke":"#e2e2e2","strokeWidth":2},"encoding":{"y2":{"field":"v2"}}},
 {"data":{"values":[{"t":2.128,"v":0,"lab":"( c )"}]},"mark":{"type":"text","font":"Liberation Serif","fontSize":46,"fontWeight":"bold","align":"center","baseline":"middle","color":"#000"},"encoding":{"text":{"field":"lab"}}},
 {"data":{"values":[{"t":0,"v":4,"lab":"×10"}]},"mark":{"type":"text","font":"Liberation Serif","fontSize":50,"align":"left","baseline":"alphabetic","dx":8,"dy":-12,"color":"#000"},"encoding":{"text":{"field":"lab"}}},
 {"data":{"values":[{"t":0,"v":4,"lab":"5"}]},"mark":{"type":"text","font":"Liberation Serif","fontSize":36,"align":"left","baseline":"alphabetic","dx":96,"dy":-34,"color":"#000"},"encoding":{"text":{"field":"lab"}}}
]},
{"width":1578,"height":146,
 "encoding":{"x":{"field":"t","type":"quantitative","scale":{"domain":[0,2],"nice":false,"zero":false},"axis":{"values":[0,0.5,1,1.5,2],"labelExpr":"replace(toString(datum.value), '.', '. ')","title":null,"labelPadding":22}},
   "y":{"field":"v","type":"quantitative","scale":{"domain":[-4,4],"nice":false},"axis":{"values":[-4,0,4],"title":"Amp（Pa）"}}},
 "layer":[
 {"transform":[{"filter":"datum.p == 'd' && isValid(datum.v)"}],"mark":{"type":"line","stroke":"#000","strokeWidth":3.7,"clip":true}},
 {"data":{"values":[{"t":2.037,"v":8.25,"v2":-9.17}]},"mark":{"type":"rule","stroke":"#e2e2e2","strokeWidth":2},"encoding":{"y2":{"field":"v2"}}},
 {"data":{"values":[{"t":2.128,"v":0,"lab":"( d )"}]},"mark":{"type":"text","font":"Liberation Serif","fontSize":46,"fontWeight":"bold","align":"center","baseline":"middle","color":"#000"},"encoding":{"text":{"field":"lab"}}},
 {"data":{"values":[{"t":0,"v":4,"lab":"×10"}]},"mark":{"type":"text","font":"Liberation Serif","fontSize":50,"align":"left","baseline":"alphabetic","dx":8,"dy":-12,"color":"#000"},"encoding":{"text":{"field":"lab"}}},
 {"data":{"values":[{"t":0,"v":4,"lab":"5"}]},"mark":{"type":"text","font":"Liberation Serif","fontSize":36,"align":"left","baseline":"alphabetic","dx":96,"dy":-34,"color":"#000"},"encoding":{"text":{"field":"lab"}}}
]},
{"width":1578,"height":113,
 "encoding":{"x":{"field":"t","type":"quantitative","scale":{"domain":[0,2],"nice":false,"zero":false},"axis":{"values":[0,0.5,1,1.5,2],"labelExpr":"replace(toString(datum.value), '.', '. ')","title":"Time（s）","titleFontSize":56,"titlePadding":30,"titleX":816,"labelPadding":27}},
   "y":{"field":"v","type":"quantitative","scale":{"domain":[-4,4],"nice":false},"axis":{"values":[-4,0,4],"title":"Amp（Pa）"}}},
 "layer":[
 {"transform":[{"filter":"datum.p == 'e' && isValid(datum.v)"}],"mark":{"type":"line","stroke":"#000","strokeWidth":3.7,"clip":true}},
 {"data":{"values":[{"t":2.037,"v":9.71,"v2":-10.11}]},"mark":{"type":"rule","stroke":"#e2e2e2","strokeWidth":2},"encoding":{"y2":{"field":"v2"}}},
 {"data":{"values":[{"t":2.128,"v":0,"lab":"( e )"}]},"mark":{"type":"text","font":"Liberation Serif","fontSize":46,"fontWeight":"bold","align":"center","baseline":"middle","color":"#000"},"encoding":{"text":{"field":"lab"}}},
 {"data":{"values":[{"t":0,"v":4,"lab":"×10"}]},"mark":{"type":"text","font":"Liberation Serif","fontSize":50,"align":"left","baseline":"alphabetic","dx":8,"dy":-12,"color":"#000"},"encoding":{"text":{"field":"lab"}}},
 {"data":{"values":[{"t":0,"v":4,"lab":"5"}]},"mark":{"type":"text","font":"Liberation Serif","fontSize":36,"align":"left","baseline":"alphabetic","dx":96,"dy":-34,"color":"#000"},"encoding":{"text":{"field":"lab"}}}
]}
],
"config":{
 "view":{"stroke":"#707070","strokeWidth":1.6},
 "axis":{"domain":false,"ticks":false,"grid":false,"labelFont":"Liberation Serif","labelFontSize":50,"labelColor":"#000","labelOverlap":false,"labelFlush":false,"titleFont":"Liberation Serif, Noto Sans CJK SC","titleColor":"#000","titleFontWeight":"bold","titleFontStyle":"italic"},
 "axisX":{"grid":true,"gridColor":"#cfcfcf","gridDash":[6,4],"gridWidth":1},
 "axisY":{"labelPadding":17,"titleFontSize":48,"titlePadding":24}
}
}
